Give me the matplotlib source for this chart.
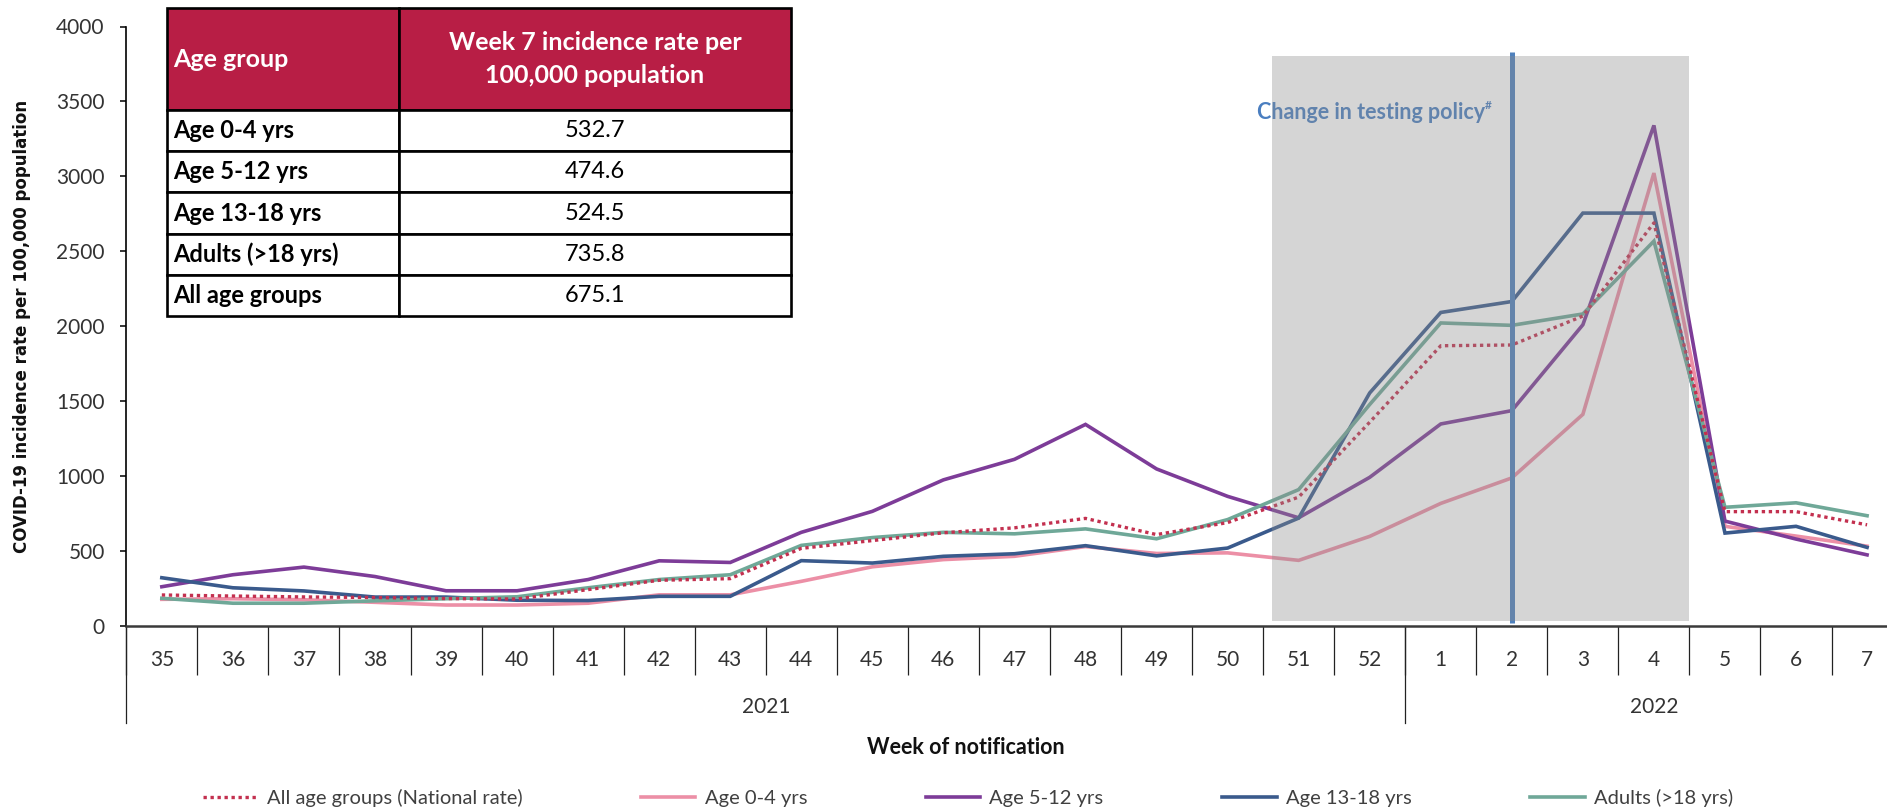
import numpy as np
import matplotlib
matplotlib.use("Agg")
import matplotlib.pyplot as plt
from matplotlib.patches import Rectangle

plt.rcParams['font.family'] = ['Lato', 'DejaVu Sans']

# ---------------- data ----------------
weeks = ["35", "36", "37", "38", "39", "40", "41", "42", "43", "44", "45", "46", "47",
         "48", "49", "50", "51", "52", "1", "2", "3", "4", "5", "6", "7"]
years = ["2021", "2022"]

national = [207, 200, 194, 190, 183, 180, 243, 305, 316, 518, 570, 622, 655, 718, 610,
            690, 860, 1360, 1870, 1875, 2068, 2690, 763, 763, 675.1]
age_0_4 = [178, 182, 175, 158, 140, 140, 152, 208, 208, 298, 395, 443, 465, 530, 484,
           488, 438, 598, 818, 988, 1412, 3022, 665, 600, 532.7]
age_5_12 = [262, 342, 393, 330, 235, 235, 310, 435, 424, 625, 765, 975, 1112, 1345, 1048,
            865, 722, 992, 1348, 1437, 2010, 3340, 700, 580, 474.6]
age_13_18 = [322, 255, 234, 193, 193, 172, 170, 198, 198, 436, 420, 465, 482, 536, 468,
             520, 720, 1555, 2092, 2165, 2755, 2755, 620, 665, 524.5]
adults = [185, 152, 152, 168, 182, 195, 255, 310, 342, 538, 590, 625, 615, 648, 582,
          710, 910, 1478, 2022, 2006, 2082, 2568, 792, 822, 735.8]

table_groups = ["Age 0-4 yrs", "Age 5-12 yrs", "Age 13-18 yrs", "Adults (>18 yrs)", "All age groups"]
table_week7 = [532.7, 474.6, 524.5, 735.8, 675.1]

policy_week = "2"
box_weeks = ("51", "4")

# ---------------- figure ----------------
W, H = 1887, 811
fig = plt.figure(figsize=(W / 100, H / 100), dpi=100)
ax = fig.add_axes([126.3 / W, 1 - 626 / H, (1902.6 - 126.3) / W, (626 - 26.5) / H])

x = np.arange(len(weeks))
series = [
    ("All age groups (National rate)", national, "#C3304F", (0, (1, 1.1)), 2.4),
    ("Age 0-4 yrs", age_0_4, "#EC8FA6", "-", 2.6),
    ("Age 5-12 yrs", age_5_12, "#7D3C98", "-", 2.6),
    ("Age 13-18 yrs", age_13_18, "#3A5A8C", "-", 2.6),
    ("Adults (>18 yrs)", adults, "#6FA898", "-", 2.6),
]
handles = []
for k, (lab, vals, col, ls, lw) in enumerate(series):
    z = 6 if k == 0 else 2 + k * 0.1
    ln, = ax.plot(x, vals, color=col, linestyle=ls, lw=lw, label=lab, zorder=z,
                  solid_joinstyle='miter')
    handles.append(ln)

# change in testing policy marker
pw = weeks.index(policy_week)
ax.plot([pw, pw], [20, 3830], color="#4F81BD", lw=3.6, zorder=7, solid_capstyle='butt')
txt = ax.text(pw - 0.38, 3425, "Change in testing policy", color="#4A7EC0",
              fontsize=15.5, fontweight='bold', ha='right', va='center', zorder=7)
ax.annotate("#", xy=(1, 0.85), xycoords=txt, fontsize=8.5, color="#4A7EC0",
            fontweight='bold', ha='left', va='center', zorder=7)

# translucent grey box over the holiday period
b0 = weeks.index(box_weeks[0]) - 0.375
b1 = weeks.index(box_weeks[1]) + 0.5
ax.add_patch(Rectangle((b0, 35), b1 - b0, 3765, facecolor="#8C8C8C", alpha=0.36,
                       edgecolor='none', zorder=10))

# axes styling
ax.set_xlim(-0.5, len(weeks) - 0.5)
ax.set_ylim(0, 4000)
ax.set_yticks(np.arange(0, 4001, 500))
ax.tick_params(axis='y', direction='out', length=4.5, width=1.1, pad=11,
               labelsize=15, labelcolor='#333333')
for s in ["top", "right"]:
    ax.spines[s].set_visible(False)
ax.spines["left"].set_linewidth(1.2)
ax.spines["bottom"].set_linewidth(1.8)
ax.spines["bottom"].set_color("#3a3a3a")

# category separators and labels
ax.set_xticks(np.arange(len(weeks) + 1) - 0.5)
ax.set_xticklabels([])
ax.tick_params(axis='x', direction='out', length=35.3, width=0.9, color='#222222')
tr = ax.get_xaxis_transform()
for i, w in enumerate(weeks):
    ax.text(i, -0.0567, w, transform=tr, ha='center', va='center', fontsize=15,
            color='#333333')
split = weeks.index("1")
for xs in [-0.5, split - 0.5]:
    ax.plot([xs, xs], [0, -0.162], transform=tr, color='#222222', lw=0.9, clip_on=False)
ax.text((split - 1) / 2, -0.135, years[0], transform=tr, ha='center', va='center',
        fontsize=15, color='#333333')
ax.text((split + len(weeks) - 1) / 2, -0.135, years[1], transform=tr, ha='center',
        va='center', fontsize=15, color='#333333')

fig.text(966 / W, 1 - 748 / H, "Week of notification", ha='center', va='center',
         fontsize=15.5, fontweight='bold', color='#111111')
fig.text(22 / W, 1 - 326 / H, "COVID-19 incidence rate per 100,000 population",
         rotation=90, ha='center', va='center', fontsize=12, fontweight='bold',
         family='DejaVu Sans', color='#111111')

leg = fig.legend(handles=handles, loc='center', bbox_to_anchor=(968 / W, 13 / H),
                 ncol=5, frameon=False, fontsize=14.5, handlelength=2.7,
                 handletextpad=0.45, columnspacing=5.9)
for t in leg.get_texts():
    t.set_color('#404040')

# ---------------- inset table ----------------
tab_ax = fig.add_axes([167 / W, 1 - 316 / H, 624 / W, 308 / H])
tab_ax.axis('off')
cells = [[g, f"{v:.1f}"] for g, v in zip(table_groups, table_week7)]
tbl = tab_ax.table(cellText=cells,
                   colLabels=["Age group", "Week 7 incidence rate per\n100,000 population"],
                   colWidths=[232 / 624, 392 / 624], cellLoc='center', bbox=[0, 0, 1, 1])
tbl.auto_set_font_size(False)
row_h = tbl[1, 0].get_height()
for (r, c), cell in tbl.get_celld().items():
    cell.set_edgecolor('black')
    cell.set_linewidth(1.9)
    t = cell.get_text()
    t.set_fontsize(17)
    if r == 0:
        cell.set_height(row_h * 102 / 41.2)
        cell.set_facecolor('#B81E45')
        t.set_color('white')
        t.set_fontweight('bold')
        t.set_linespacing(1.55)
        t.set_fontsize(18)
    if c == 0:
        t.set_ha('left')
        cell.PAD = 0.025
        t.set_fontweight('bold')

fig.savefig("out.png", dpi=100)
